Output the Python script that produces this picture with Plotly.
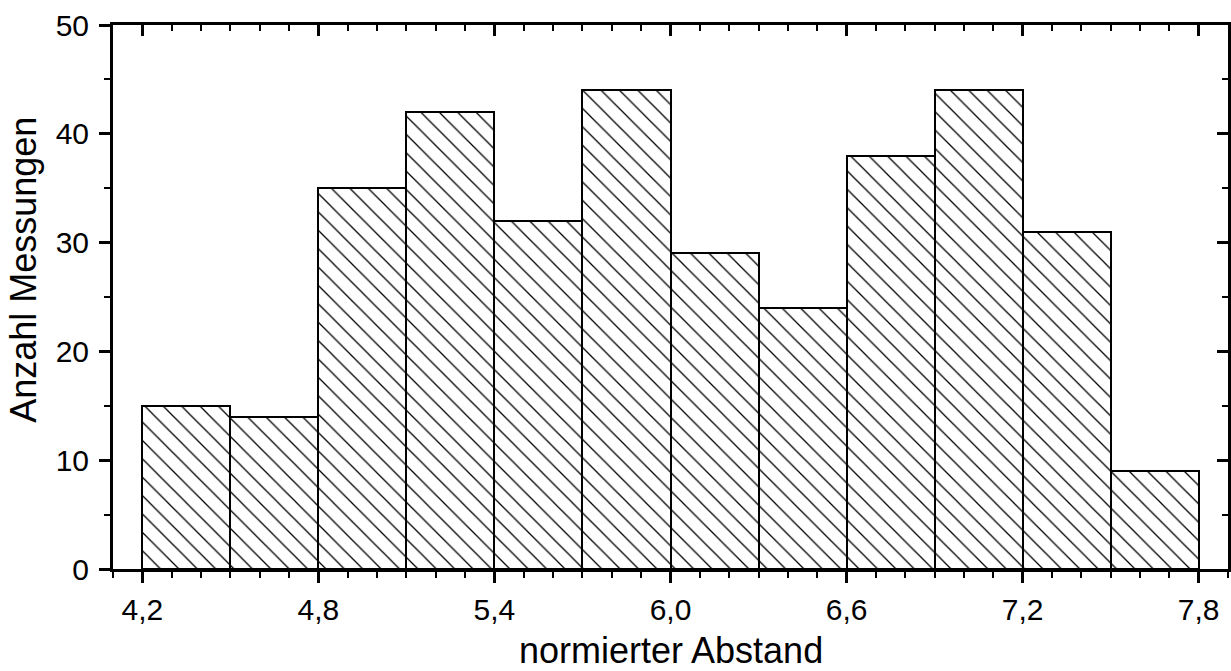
import plotly.graph_objects as go

bin_left = [4.2, 4.5, 4.8, 5.1, 5.4, 5.7, 6.0, 6.3, 6.6, 6.9, 7.2, 7.5]
bin_width = 0.3
counts = [15, 14, 35, 42, 32, 44, 29, 24, 38, 44, 31, 9]
x_tickvals = [4.2, 4.8, 5.4, 6.0, 6.6, 7.2, 7.8]
x_ticktext = ["4,2", "4,8", "5,4", "6,0", "6,6", "7,2", "7,8"]
y_tickvals = [0, 10, 20, 30, 40, 50]
x_title = "normierter Abstand"
y_title = "Anzahl Messungen"

centers = [b + bin_width / 2 for b in bin_left]

FONT = "Liberation Sans, Arial, sans-serif"
FS = 30
TS = 36

fig = go.Figure()
fig.add_trace(go.Bar(
    x=centers, y=counts, width=bin_width,
    marker=dict(color="white",
                line=dict(color="black", width=2),
                pattern=dict(shape="\\", fgcolor="black", bgcolor="white", fgopacity=1,
                             size=13, solidity=0.1)),
    showlegend=False,
))
fig.add_trace(go.Scatter(x=[None], y=[None], xaxis="x2", yaxis="y2", showlegend=False))

xr = [4.1, 7.9]
yr = [0, 50]
fig.update_layout(
    width=1231, height=671,
    margin=dict(l=113, r=3, t=25, b=102),
    plot_bgcolor="white", paper_bgcolor="white",
    font=dict(family=FONT, size=FS, color="black"),
    bargap=0,
    xaxis=dict(range=xr, tickvals=x_tickvals, ticktext=x_ticktext, automargin=False,
               ticks="outside", ticklen=11, tickwidth=3, tickcolor="black",
               minor=dict(dtick=0.1, tick0=4.2, ticks="outside", ticklen=6, tickwidth=2, tickcolor="black"),
               showline=True, linewidth=3, linecolor="black", showgrid=False, zeroline=False,
               ticklabelstandoff=1,
               tickfont=dict(size=FS)),
    yaxis=dict(range=yr, tickvals=y_tickvals, automargin=False,
               ticks="outside", ticklen=11, tickwidth=3, tickcolor="black",
               minor=dict(dtick=5, ticks="outside", ticklen=6, tickwidth=2, tickcolor="black"),
               showline=True, linewidth=3, linecolor="black", showgrid=False, zeroline=False,
               ticklabelstandoff=4,
               tickfont=dict(size=FS)),
    xaxis2=dict(range=xr, overlaying="x", side="top", tickvals=x_tickvals, automargin=False,
                showticklabels=False,
                ticks="inside", ticklen=11, tickwidth=3, tickcolor="black",
                minor=dict(dtick=0.1, tick0=4.2, ticks="inside", ticklen=6, tickwidth=2, tickcolor="black"),
                showline=True, linewidth=3, linecolor="black", showgrid=False, zeroline=False),
    yaxis2=dict(range=yr, overlaying="y", side="right", tickvals=y_tickvals, automargin=False,
                showticklabels=False,
                ticks="inside", ticklen=11, tickwidth=3, tickcolor="black",
                minor=dict(dtick=5, ticks="inside", ticklen=6, tickwidth=2, tickcolor="black"),
                showline=True, linewidth=3, linecolor="black", showgrid=False, zeroline=False),
    annotations=[
        dict(text=x_title, xref="paper", yref="paper", x=0.5, y=0,
             xanchor="center", yanchor="middle", yshift=-81, showarrow=False,
             font=dict(size=TS)),
        dict(text=y_title, xref="paper", yref="paper", x=0, y=0.55, textangle=-90,
             xanchor="center", yanchor="middle", xshift=-89, showarrow=False,
             font=dict(size=TS)),
    ],
)

fig.write_html("out.html")
